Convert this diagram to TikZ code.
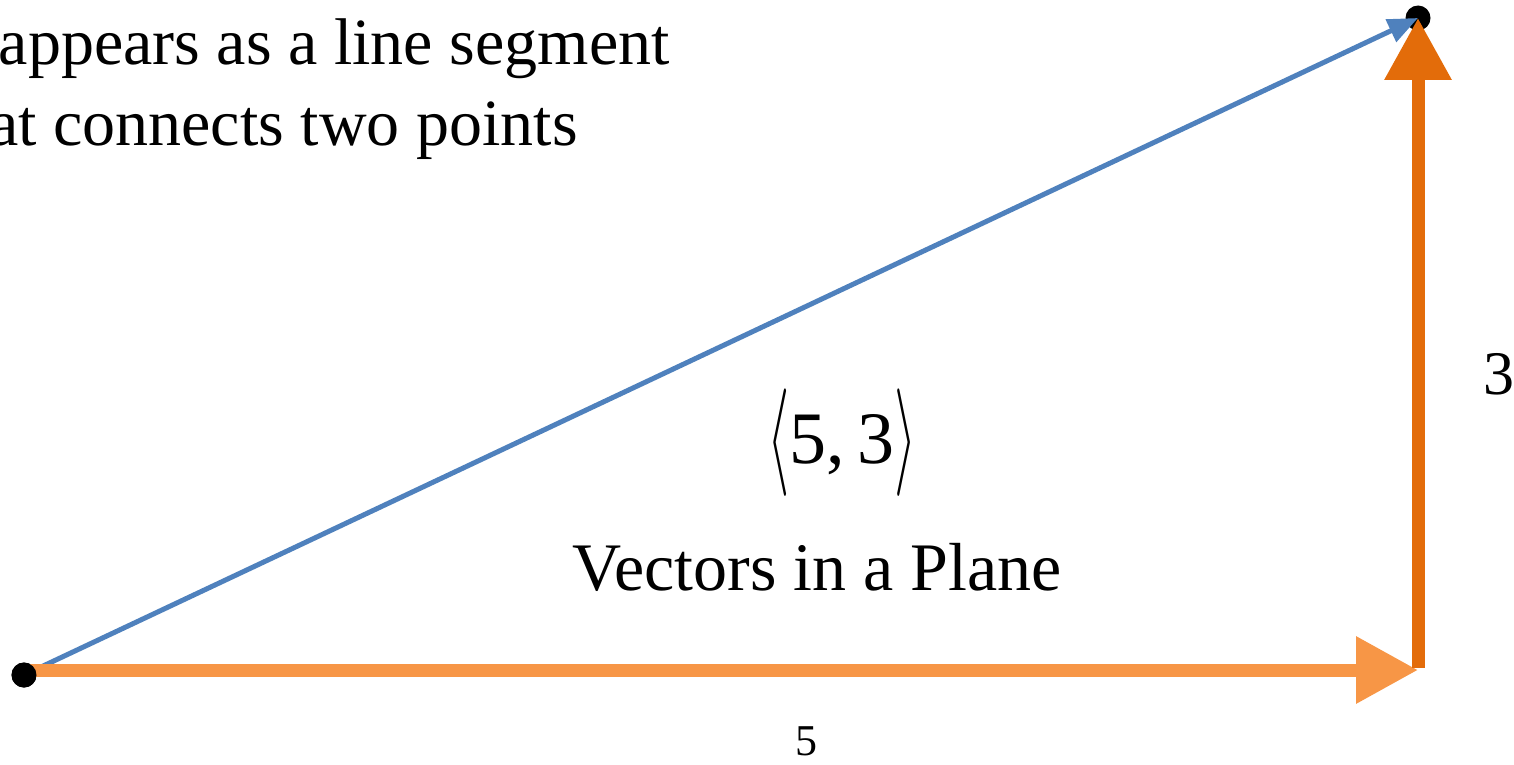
\documentclass[tikz,border=0pt]{standalone}
\usepackage{graphicx}
\usepackage{fontspec}
\setmainfont{Liberation Serif}
\usetikzlibrary{arrows.meta, positioning}
\definecolor{vecblue}{HTML}{4F81BD}
\definecolor{xorange}{HTML}{F79646}
\definecolor{yorange}{HTML}{E36C0A}
\newcommand{\tallangle}[1]{\raisebox{-3pt}{\fontsize{30}{36}\selectfont\scalebox{1.15}[2.16]{$#1$}}}

\begin{document}
\begin{tikzpicture}[
        x=0.5pt, y=-0.5pt,
        dot/.style={circle, fill=black, inner sep=0pt, minimum size=12.5pt},
        lbl/.style={inner sep=0pt, text=black},
        comp/.style={line width=6.5pt, -{Triangle[length=31pt, width=32pt]}}
      ]
      \clip (0,0) rectangle (1514,765);

      % points and corner
      \node (head) [dot] at (1418,18) {};
      \node (tail) [dot] at (24,675) {};
      \coordinate (corner) at (1418,670);
      \coordinate (base) at (24,670);

      % the vector and its components
      \draw[vecblue, line width=2.5pt, -{Triangle[length=15pt, width=12pt]}] (tail.center) -- (head.center);
      \draw[comp, xorange] (base) -- (corner);
      \draw[comp, yorange] ([yshift=1pt]corner) -- (head.center);
      \node [dot] at (tail) {};

      % texts
      \node (line1) [lbl, anchor=base east, font=\fontsize{33}{40}\selectfont] at (670,65) {appears as a line segment};
      \node (line2) [lbl, anchor=base east, font=\fontsize{33}{40}\selectfont] at (578,145) {that connects two points};
      \node (comps) [lbl, anchor=base, font=\fontsize{37}{44}\selectfont] at (842,463)
        {\tallangle{\langle}5,\,3\tallangle{\rangle}};
      \node (title) [lbl, font=\fontsize{34}{40}\selectfont] at (817,567) {Vectors in a Plane};
      \node (xlen) [lbl, font=\fontsize{22}{26}\selectfont] at (806,741) {5};
      \node (ylen) [lbl, font=\fontsize{31}{36}\selectfont] at (1499,374) {3};
    \end{tikzpicture}
\end{document}
